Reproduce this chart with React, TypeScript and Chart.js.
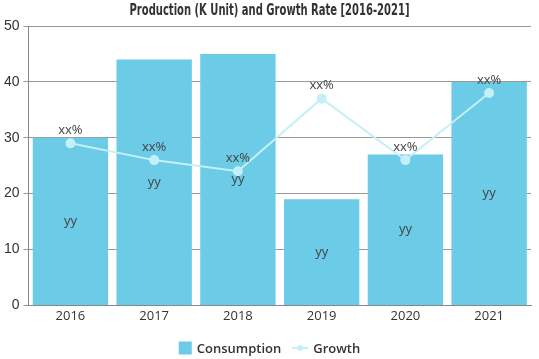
import React, { useEffect, useRef } from "react";
import { Chart, registerables } from "chart.js";

Chart.register(...registerables);

const categories = ["2016", "2017", "2018", "2019", "2020", "2021"];
const consumption = [30, 44, 45, 19, 27, 40];
const growth = [29, 26, 24, 37, 26, 38];
const barLabels = ["yy", "yy", "yy", "yy", "yy", "yy"];
const lineLabels = ["xx%", "xx%", "xx%", "xx%", "xx%", "xx%"];
const seriesNames = ["Consumption", "Growth"];
const titleText = "Production (K Unit) and Growth Rate [2016-2021]";

const BAR = "#6ccbe6";
const LINE = "#c4f0f7";
const LEGEND_FONT = "600 13px 'Open Sans', sans-serif";

const labelPlugin = {
  id: "valueLabels",
  afterDatasetsDraw(chart: any) {
    const ctx = chart.ctx;
    ctx.save();
    ctx.font = "13px 'Open Sans', sans-serif";
    ctx.fillStyle = "#444";
    ctx.textAlign = "center";
    ctx.textBaseline = "middle";
    const barMeta = chart.getDatasetMeta(0);
    barMeta.data.forEach((el: any, i: number) => {
      const y = (el.y + el.base) / 2;
      ctx.fillText(barLabels[i], el.x, y);
    });
    const lineMeta = chart.getDatasetMeta(1);
    lineMeta.data.forEach((el: any, i: number) => {
      ctx.fillText(lineLabels[i], el.x, el.y - 13);
    });
    ctx.restore();
  },
  afterDraw(chart: any) {
    const ctx = chart.ctx;
    // title
    ctx.save();
    ctx.font = "bold 15px 'DejaVu Sans', sans-serif";
    ctx.fillStyle = "#333";
    ctx.textBaseline = "alphabetic";
    ctx.textAlign = "left";
    const tw = ctx.measureText(titleText).width;
    const target = 280;
    const sx = target / tw;
    ctx.translate(chart.width / 2 - target / 2, 15);
    ctx.scale(sx, 1);
    ctx.fillText(titleText, 0, 0);
    ctx.restore();

    // legend
    ctx.save();
    ctx.font = LEGEND_FONT;
    ctx.textBaseline = "middle";
    ctx.textAlign = "left";
    const box = 13;
    const gap = 5;
    const itemGap = 11;
    const lineW = 16;
    const w0 = ctx.measureText(seriesNames[0]).width;
    const w1 = ctx.measureText(seriesNames[1]).width;
    const total = box + gap + w0 + itemGap + lineW + gap + w1;
    let x = chart.width / 2 - total / 2;
    const cy = chart.height - 11;
    ctx.fillStyle = BAR;
    ctx.fillRect(x, cy - box / 2, box, box);
    x += box + gap;
    ctx.fillStyle = "#333";
    ctx.fillText(seriesNames[0], x, cy + 1);
    x += w0 + itemGap;
    ctx.strokeStyle = LINE;
    ctx.lineWidth = 2;
    ctx.beginPath();
    ctx.moveTo(x, cy);
    ctx.lineTo(x + lineW, cy);
    ctx.stroke();
    ctx.fillStyle = LINE;
    ctx.beginPath();
    ctx.arc(x + lineW / 2, cy, 3, 0, Math.PI * 2);
    ctx.fill();
    x += lineW + gap;
    ctx.fillStyle = "#333";
    ctx.fillText(seriesNames[1], x, cy + 1);
    ctx.restore();
  },
};

export default function App() {
  const ref = useRef<HTMLCanvasElement | null>(null);
  useEffect(() => {
    if (!ref.current) return;
    const chart = new Chart(ref.current, {
      type: "bar",
      data: {
        labels: categories,
        datasets: [
          {
            type: "bar",
            label: seriesNames[0],
            data: consumption,
            backgroundColor: BAR,
            borderWidth: 0,
            barPercentage: 0.9,
            categoryPercentage: 1,
            order: 2,
          },
          {
            type: "line",
            label: seriesNames[1],
            data: growth,
            borderColor: LINE,
            backgroundColor: LINE,
            borderWidth: 2,
            pointRadius: 4,
            pointBackgroundColor: LINE,
            pointBorderColor: LINE,
            tension: 0,
            order: 1,
          } as any,
        ],
      },
      options: {
        animation: false,
        responsive: true,
        maintainAspectRatio: false,
        layout: { padding: { left: 0, right: 8, top: 26, bottom: 32 } },
        plugins: {
          title: { display: false },
          legend: { display: false },
          tooltip: { enabled: false },
        },
        scales: {
          x: {
            grid: { display: false, drawTicks: false },
            border: { display: true, color: "#888" },
            ticks: { color: "#333", font: { family: "'Open Sans', sans-serif", size: 13 }, padding: 3 },
          },
          y: {
            min: 0,
            max: 50,
            grid: { color: "#999", tickLength: 5 },
            border: { display: true, color: "#888" },
            ticks: { stepSize: 10, color: "#333", font: { family: "'Liberation Sans', Arial, sans-serif", size: 14 }, padding: 4 },
          },
        },
      },
      plugins: [labelPlugin],
    });
    return () => chart.destroy();
  }, []);
  return (
    <div style={{ position: "fixed", left: 0, top: 0, width: 539, height: 359 }}>
      <canvas ref={ref} />
    </div>
  );
}
